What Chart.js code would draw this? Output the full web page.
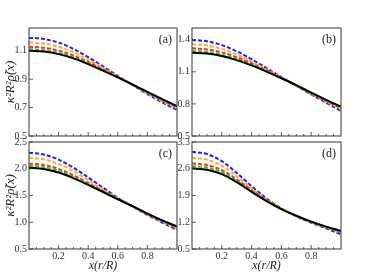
<!DOCTYPE html>
<html>
<head>
<meta charset="utf-8">
<script src="https://cdn.jsdelivr.net/npm/chart.js@4"></script>
<style>
  html, body { margin: 0; padding: 0; background: #fff; }
  #wrap { position: relative; width: 370px; height: 279px; }
  #wrap canvas { position: absolute; left: 0; top: 0; }
</style>
</head>
<body>
<div id="wrap">
  <canvas id="pa" width="370" height="279"></canvas>
  <canvas id="pb" width="370" height="279"></canvas>
  <canvas id="pc" width="370" height="279"></canvas>
  <canvas id="pd" width="370" height="279"></canvas>
</div>
<script>
// x grid of the curves
const xs = [0, 0.1, 0.2, 0.3, 0.4, 0.5, 0.6, 0.7, 0.8, 0.9, 1.0];

// panel (a)
const aBlack  = [1.100, 1.094, 1.076, 1.046, 1.006, 0.960, 0.912, 0.862, 0.810, 0.759, 0.710];
const aGreen  = [1.110, 1.104, 1.085, 1.053, 1.011, 0.963, 0.913, 0.861, 0.809, 0.757, 0.707];
const aRed    = [1.128, 1.121, 1.101, 1.066, 1.021, 0.969, 0.915, 0.861, 0.806, 0.753, 0.702];
const aOrange = [1.159, 1.151, 1.128, 1.089, 1.037, 0.979, 0.919, 0.860, 0.801, 0.745, 0.693];
const aBlue   = [1.192, 1.183, 1.157, 1.113, 1.055, 0.990, 0.923, 0.859, 0.795, 0.737, 0.683];

// panel (b)
const bBlack  = [1.279, 1.271, 1.248, 1.210, 1.160, 1.102, 1.040, 0.975, 0.905, 0.838, 0.774];
const bGreen  = [1.295, 1.286, 1.261, 1.220, 1.167, 1.106, 1.041, 0.974, 0.903, 0.835, 0.770];
const bRed    = [1.320, 1.310, 1.282, 1.237, 1.179, 1.113, 1.044, 0.973, 0.900, 0.830, 0.763];
const bOrange = [1.358, 1.347, 1.315, 1.263, 1.197, 1.123, 1.047, 0.971, 0.895, 0.822, 0.750];
const bBlue   = [1.398, 1.386, 1.350, 1.292, 1.218, 1.135, 1.051, 0.969, 0.889, 0.812, 0.734];

// panel (c)
const cBlack  = [2.020, 1.997, 1.930, 1.825, 1.697, 1.565, 1.430, 1.300, 1.160, 1.035, 0.920];
const cGreen  = [2.057, 2.032, 1.961, 1.850, 1.714, 1.574, 1.434, 1.300, 1.158, 1.031, 0.913];
const cRed    = [2.100, 2.073, 1.997, 1.878, 1.734, 1.585, 1.438, 1.298, 1.153, 1.024, 0.900];
const cOrange = [2.207, 2.177, 2.091, 1.955, 1.790, 1.617, 1.448, 1.295, 1.145, 1.010, 0.880];
const cBlue   = [2.300, 2.267, 2.171, 2.020, 1.838, 1.647, 1.458, 1.292, 1.137, 0.995, 0.855];

// panel (d)
const dBlack  = [2.612, 2.572, 2.460, 2.250, 1.995, 1.755, 1.545, 1.370, 1.215, 1.085, 0.971];
const dGreen  = [2.672, 2.630, 2.508, 2.285, 2.015, 1.765, 1.548, 1.369, 1.212, 1.080, 0.963];
const dRed    = [2.743, 2.698, 2.565, 2.325, 2.040, 1.777, 1.551, 1.367, 1.208, 1.073, 0.952];
const dOrange = [2.890, 2.838, 2.680, 2.405, 2.090, 1.800, 1.556, 1.363, 1.198, 1.058, 0.928];
const dBlue   = [3.046, 2.985, 2.800, 2.490, 2.145, 1.823, 1.561, 1.358, 1.188, 1.040, 0.885];

// tick labels
const xTicks  = [0.2, 0.4, 0.6, 0.8];
const yTicksA = [0.5, 0.7, 0.9, 1.1];
const yTicksB = [0.5, 0.8, 1.1, 1.4];
const yTicksC = [0.5, 1.0, 1.5, 2.0, 2.5];
const yTicksD = [0.5, 1.2, 1.9, 2.6, 3.3];
const panelLabels = ['(a)', '(b)', '(c)', '(d)'];

const serif = '"Liberation Serif", "DejaVu Serif", serif';
const yTitle = 'κ²R²ρ̃(x)';
const xTitle = 'x(r/R)';

function toPts(ys) {
    return ys.map((y, i) => ({ x: xs[i], y: y }));
}

function makeSets(black, green, red, orange, blue) {
    const dash = [4, 2];
    return [
        { data: toPts(black), borderColor: '#000000', borderWidth: 2 },
        { data: toPts(green), borderColor: '#1fd21f', borderWidth: 2, borderDash: dash },
        { data: toPts(red), borderColor: '#ff2a2a', borderWidth: 2, borderDash: dash },
        { data: toPts(orange), borderColor: '#ffad33', borderWidth: 2, borderDash: dash },
        { data: toPts(blue), borderColor: '#1f1fff', borderWidth: 2, borderDash: dash }
    ];
}

// frame, inward ticks and panel tag
const framePlugin = {
    id: 'frame',
    afterDraw(chart, args, opts) {
        const { ctx, chartArea: a, scales } = chart;
        ctx.save();
        ctx.strokeStyle = '#555';
        ctx.lineWidth = 1.2;
        ctx.strokeRect(a.left, a.top, a.right - a.left, a.bottom - a.top);

        ctx.lineWidth = 0.8;
        ctx.strokeStyle = '#333';
        ctx.beginPath();
        for (let k = 1; k < 20; k++) {
            const v = k * 0.05;
            const px = scales.x.getPixelForValue(v);
            const len = (k % 4 === 0) ? 4 : 2;
            ctx.moveTo(px, a.bottom);
            ctx.lineTo(px, a.bottom - len);
        }
        opts.yTicks.forEach(v => {
            const py = scales.y.getPixelForValue(v);
            ctx.moveTo(a.left, py);
            ctx.lineTo(a.left + 4, py);
        });
        ctx.stroke();

        ctx.fillStyle = '#222';
        ctx.font = '12px ' + serif;
        ctx.textAlign = 'right';
        ctx.textBaseline = 'middle';
        ctx.fillText(opts.tag, a.right - 5, a.top + 12);
        ctx.restore();
    }
};

function makePanel(id, sets, yTicks, tag, box, isLeft, isBottom) {
    const yMin = yTicks[0];
    const yMax = box.yMax;
    new Chart(document.getElementById(id), {
        type: 'line',
        data: { datasets: sets },
        plugins: [framePlugin],
        options: {
            responsive: false,
            animation: false,
            events: [],
            layout: {
                padding: {
                    left: box.padLeft,
                    top: box.top,
                    right: 370 - box.right,
                    bottom: isBottom ? 0 : 279 - box.bottom
                }
            },
            elements: {
                point: { radius: 0 },
                line: { cubicInterpolationMode: 'monotone', fill: false }
            },
            plugins: {
                legend: { display: false },
                tooltip: { enabled: false },
                frame: { yTicks: yTicks, tag: tag }
            },
            scales: {
                x: {
                    type: 'linear',
                    min: 0,
                    max: 1,
                    border: { display: false },
                    grid: { display: false, drawTicks: false },
                    afterBuildTicks: s => { s.ticks = xTicks.map(v => ({ value: v })); },
                    afterFit: s => { s.height = isBottom ? 279 - box.bottom : 0; },
                    ticks: {
                        display: isBottom,
                        padding: 1,
                        maxRotation: 0,
                        autoSkip: false,
                        color: '#333',
                        font: { family: serif, size: 10 },
                        callback: v => v.toFixed(1)
                    },
                    title: {
                        display: isBottom,
                        text: xTitle,
                        color: '#222',
                        padding: { top: 0, bottom: 6 },
                        font: { family: serif, size: 12, style: 'italic' }
                    }
                },
                y: {
                    type: 'linear',
                    min: yMin,
                    max: yMax,
                    border: { display: false },
                    grid: { display: false, drawTicks: false },
                    afterBuildTicks: s => { s.ticks = yTicks.map(v => ({ value: v })); },
                    afterFit: s => { s.width = box.left - box.padLeft; },
                    ticks: {
                        padding: 2,
                        autoSkip: false,
                        color: '#333',
                        font: { family: serif, size: 10 },
                        callback: v => v.toFixed(1)
                    },
                    title: {
                        display: isLeft,
                        text: yTitle,
                        color: '#222',
                        padding: { top: 3, bottom: 0 },
                        font: { family: serif, size: 13, style: 'italic' }
                    }
                }
            }
        }
    });
}

const topRow = { top: 28, bottom: 136 };
const botRow = { top: 142, bottom: 249 };

makePanel('pa', makeSets(aBlack, aGreen, aRed, aOrange, aBlue), yTicksA, panelLabels[0],
    { padLeft: 0, left: 29, right: 177, top: topRow.top, bottom: topRow.bottom, yMax: 1.26 }, true, false);
makePanel('pb', makeSets(bBlack, bGreen, bRed, bOrange, bBlue), yTicksB, panelLabels[1],
    { padLeft: 177, left: 192, right: 341, top: topRow.top, bottom: topRow.bottom, yMax: 1.51 }, false, false);
makePanel('pc', makeSets(cBlack, cGreen, cRed, cOrange, cBlue), yTicksC, panelLabels[2],
    { padLeft: 0, left: 29, right: 177, top: botRow.top, bottom: botRow.bottom, yMax: 2.5 }, true, true);
makePanel('pd', makeSets(dBlack, dGreen, dRed, dOrange, dBlue), yTicksD, panelLabels[3],
    { padLeft: 177, left: 192, right: 341, top: botRow.top, bottom: botRow.bottom, yMax: 3.3 }, false, true);
</script>
</body>
</html>
